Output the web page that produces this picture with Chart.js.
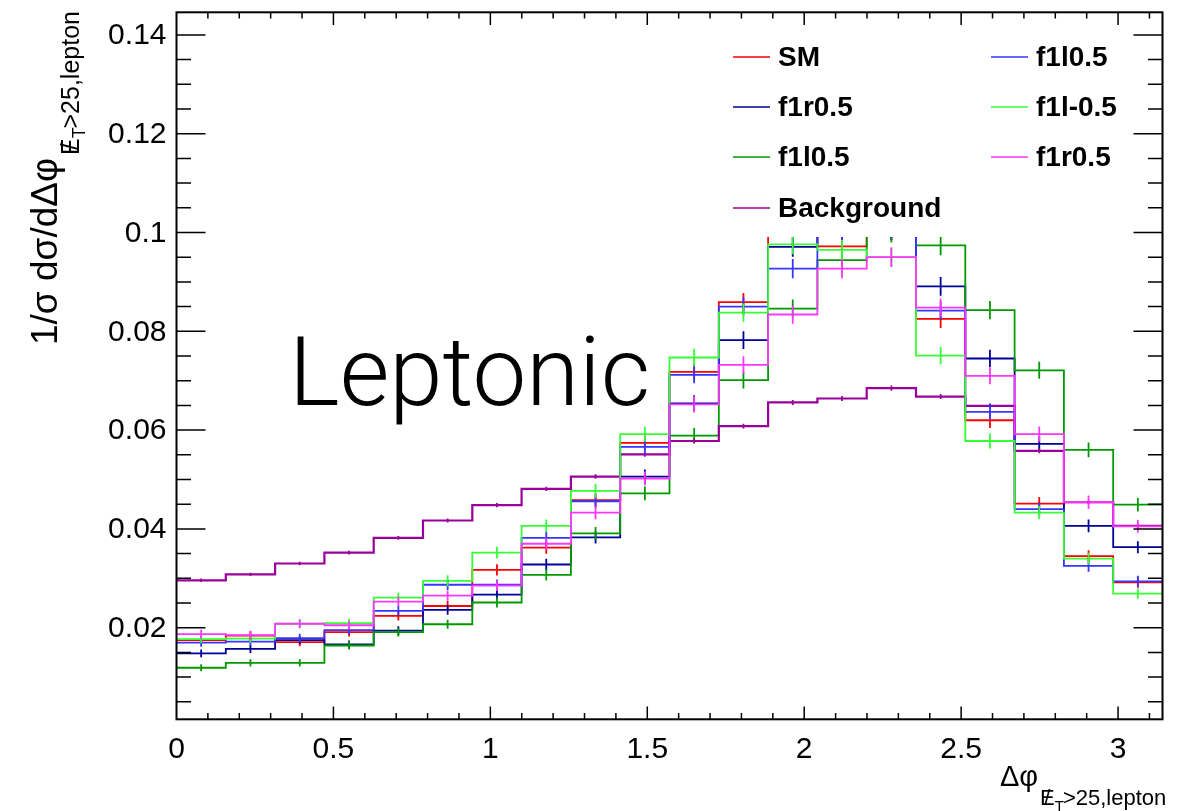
<!DOCTYPE html>
<html>
<head>
<meta charset="utf-8">
<script src="https://cdn.jsdelivr.net/npm/chart.js@4.4.1/dist/chart.umd.min.js"></script>
<style>
html, body { margin: 0; padding: 0; background: #fff; }
canvas { display: block; }
</style>
</head>
<body>
<canvas id="histChart" width="1194" height="811"></canvas>
<script>
// Histogram binning: 20 bins over [0, pi]
const nBins = 20;
const xMax = Math.PI;
const yMin = 0.00146;
const yMax = 0.14458;

// 1/sigma dsigma/dDeltaphi, one value per bin
const smVals      = [0.0175, 0.0184, 0.0171, 0.0191, 0.0224, 0.0244, 0.0317, 0.0362, 0.0458, 0.0574, 0.0718, 0.0859, 0.0995, 0.0972, 0.1005, 0.0825, 0.0620, 0.0451, 0.0345, 0.0292];
const f1r05Vals   = [0.0148, 0.0157, 0.0175, 0.0166, 0.0194, 0.0236, 0.0267, 0.0328, 0.0383, 0.0506, 0.0654, 0.0782, 0.0971, 0.1010, 0.1005, 0.0891, 0.0745, 0.0572, 0.0406, 0.0363];
const f1l05Vals   = [0.0119, 0.0129, 0.0129, 0.0164, 0.0191, 0.0207, 0.0251, 0.0307, 0.0391, 0.0472, 0.0589, 0.0701, 0.0846, 0.0944, 0.1000, 0.0974, 0.0843, 0.0721, 0.0560, 0.0449];
const bkgVals     = [0.0296, 0.0308, 0.0330, 0.0352, 0.0382, 0.0417, 0.0448, 0.0481, 0.0506, 0.0551, 0.0578, 0.0608, 0.0656, 0.0664, 0.0685, 0.0668, 0.0649, 0.0558, 0.0454, 0.0406];
const f1l05bVals  = [0.0170, 0.0172, 0.0179, 0.0195, 0.0234, 0.0287, 0.0287, 0.0382, 0.0456, 0.0566, 0.0712, 0.0850, 0.0927, 0.1000, 0.1010, 0.0842, 0.0637, 0.0440, 0.0325, 0.0294];
const f1lm05Vals  = [0.0177, 0.0178, 0.0208, 0.0209, 0.0261, 0.0295, 0.0352, 0.0406, 0.0477, 0.0592, 0.0747, 0.0838, 0.0976, 0.0965, 0.0950, 0.0751, 0.0578, 0.0433, 0.0340, 0.0269];
const f1r05bVals  = [0.0187, 0.0185, 0.0208, 0.0205, 0.0253, 0.0265, 0.0285, 0.0370, 0.0433, 0.0502, 0.0652, 0.0732, 0.0834, 0.0927, 0.0950, 0.0848, 0.0710, 0.0592, 0.0454, 0.0405];

// Statistical error scale per series (error = scale * sqrt(value))
const errScales = [0.0064, 0.0064, 0.0064, 0.0020, 0.0064, 0.0064, 0.0064];

const seriesNames  = ['SM', 'f1r0.5', 'f1l0.5', 'Background', 'f1l0.5', 'f1l-0.5', 'f1r0.5'];
const seriesColors = ['#ff0000', '#000099', '#009900', '#990099', '#3636ff', '#36ff36', '#ff36ff'];
const seriesValues = [smVals, f1r05Vals, f1l05Vals, bkgVals, f1l05bVals, f1lm05Vals, f1r05bVals];

// Tick labels
const xTickValues = [0, 0.5, 1, 1.5, 2, 2.5, 3];
const xTickLabels = ['0', '0.5', '1', '1.5', '2', '2.5', '3'];
const yTickValues = [0.02, 0.04, 0.06, 0.08, 0.1, 0.12, 0.14];
const yTickLabels = ['0.02', '0.04', '0.06', '0.08', '0.1', '0.12', '0.14'];

const binWidth = xMax / nBins;
const FONT = "'Liberation Sans', Arial, Helvetica, sans-serif";

// step points: point i+1 (right edge of bin i) carries the value of bin i
function toSteps(vals) {
    const pts = [{ x: 0, y: vals[0] }];
    vals.forEach((v, i) => pts.push({ x: (i + 1) * binWidth, y: v }));
    return pts;
}

// draw "E-slash" with a T sub-subscript then the rest of the text
function drawMetSub(ctx, x, y, size) {
    ctx.font = size + 'px ' + FONT;
    const wE = ctx.measureText('E').width;
    ctx.fillText('E', x, y);
    const wS = ctx.measureText('/').width;
    ctx.fillText('/', x + (wE - wS) / 2, y);
    let cx = x + wE;
    const small = Math.round(size * 0.7);
    ctx.font = small + 'px ' + FONT;
    ctx.fillText('T', cx, y + size * 0.25);
    cx += ctx.measureText('T').width * 0.9;
    ctx.font = size + 'px ' + FONT;
    ctx.fillText('>25,lepton', cx, y);
}

const rootPlugin = {
    id: 'rootStyle',
    afterDatasetsDraw(chart) {
        const ctx = chart.ctx;
        const a = chart.chartArea;
        const xs = chart.scales.x, ys = chart.scales.y;

        // vertical error bars at bin centres
        ctx.save();
        ctx.beginPath();
        ctx.rect(a.left, a.top, a.right - a.left, a.bottom - a.top);
        ctx.clip();
        seriesValues.forEach((vals, s) => {
            ctx.strokeStyle = seriesColors[s];
            ctx.lineWidth = 1.8;
            vals.forEach((v, i) => {
                const e = errScales[s] * Math.sqrt(v);
                const px = xs.getPixelForValue((i + 0.5) * binWidth);
                ctx.beginPath();
                ctx.moveTo(px, ys.getPixelForValue(v - e));
                ctx.lineTo(px, ys.getPixelForValue(v + e));
                ctx.stroke();
            });
        });
        ctx.restore();

        // legend (white box covers the curves underneath)
        ctx.save();
        ctx.fillStyle = '#fff';
        ctx.fillRect(722, a.top, 430, 237 - a.top);
        const cols = [733, 991];
        const rows = [57, 107, 157, 208];
        const layout = [[0, 0], [0, 1], [0, 2], [0, 3], [1, 0], [1, 1], [1, 2]];
        ctx.font = 'bold 28px ' + FONT;
        ctx.textBaseline = 'middle';
        layout.forEach(([c, r], s) => {
            const lx = cols[c], ly = rows[r];
            ctx.strokeStyle = seriesColors[s];
            ctx.lineWidth = 1.6;
            ctx.beginPath();
            ctx.moveTo(lx, ly);
            ctx.lineTo(lx + 37, ly);
            ctx.stroke();
            ctx.fillStyle = '#000';
            ctx.fillText(seriesNames[s], lx + 45, ly + 1);
        });
        ctx.restore();
    },
    afterDraw(chart) {
        const ctx = chart.ctx;
        const a = chart.chartArea;
        const xs = chart.scales.x, ys = chart.scales.y;
        ctx.save();
        ctx.strokeStyle = '#000';
        ctx.fillStyle = '#000';

        // ticks: y every 0.005 (major 0.02), x every 0.1 (major 0.5)
        ctx.lineWidth = 1.5;
        ctx.beginPath();
        for (let k = 1; k <= 29; k++) {
            const v = k * 0.005;
            if (v < yMin || v > yMax) continue;
            const py = ys.getPixelForValue(v);
            const len = (k % 4 === 0) ? 29 : 14.5;
            ctx.moveTo(a.left, py); ctx.lineTo(a.left + len, py);
            ctx.moveTo(a.right, py); ctx.lineTo(a.right - len, py);
        }
        for (let k = 1; k <= 31; k++) {
            const px = xs.getPixelForValue(k * 0.1);
            const len = (k % 5 === 0) ? 12.7 : 6.3;
            ctx.moveTo(px, a.bottom); ctx.lineTo(px, a.bottom - len);
            ctx.moveTo(px, a.top); ctx.lineTo(px, a.top + len);
        }
        ctx.stroke();

        // frame
        ctx.lineWidth = 2;
        ctx.strokeRect(a.left, a.top, a.right - a.left, a.bottom - a.top);

        // tick labels
        ctx.font = '30px ' + FONT;
        ctx.textAlign = 'right';
        ctx.textBaseline = 'middle';
        yTickValues.forEach((v, i) => ctx.fillText(yTickLabels[i], a.left - 10, ys.getPixelForValue(v) + 1));
        ctx.textAlign = 'center';
        ctx.textBaseline = 'alphabetic';
        xTickValues.forEach((v, i) => ctx.fillText(xTickLabels[i], xs.getPixelForValue(v), 758));

        // x title
        ctx.textAlign = 'left';
        ctx.font = '29px ' + FONT;
        ctx.fillText('\u0394\u03c6', 1000, 786);
        drawMetSub(ctx, 1040, 805, 22);

        // y title (rotated)
        ctx.save();
        ctx.translate(57, 345);
        ctx.rotate(-Math.PI / 2);
        ctx.font = '37px ' + FONT;
        ctx.fillText('1/\u03c3 d\u03c3/d\u0394\u03c6', 0, 0);
        const w = ctx.measureText('1/\u03c3 d\u03c3/d\u0394\u03c6').width;
        drawMetSub(ctx, w + 3, 22, 25);
        ctx.restore();

        // label inside the pad
        ctx.font = '300 96px Roboto, ' + FONT;
        ctx.fillText('Leptonic', 289, 405);
        ctx.restore();
    }
};

const datasets = seriesValues.map((vals, s) => ({
    label: seriesNames[s],
    data: toSteps(vals),
    borderColor: seriesColors[s],
    borderWidth: s === 3 ? 2.2 : 1.8,
    stepped: 'after',
    pointRadius: 0,
    fill: false,
    order: seriesValues.length - s
}));

new Chart(document.getElementById('histChart').getContext('2d'), {
    type: 'line',
    data: { datasets: datasets },
    options: {
        responsive: false,
        animation: false,
        layout: { padding: { left: 176.5, right: 31.5, top: 12.3, bottom: 91.7 } },
        scales: {
            x: { type: 'linear', min: 0, max: xMax, display: false },
            y: { type: 'linear', min: yMin, max: yMax, display: false }
        },
        plugins: {
            legend: { display: false },
            tooltip: { enabled: false }
        }
    },
    plugins: [rootPlugin]
});
</script>
</body>
</html>
